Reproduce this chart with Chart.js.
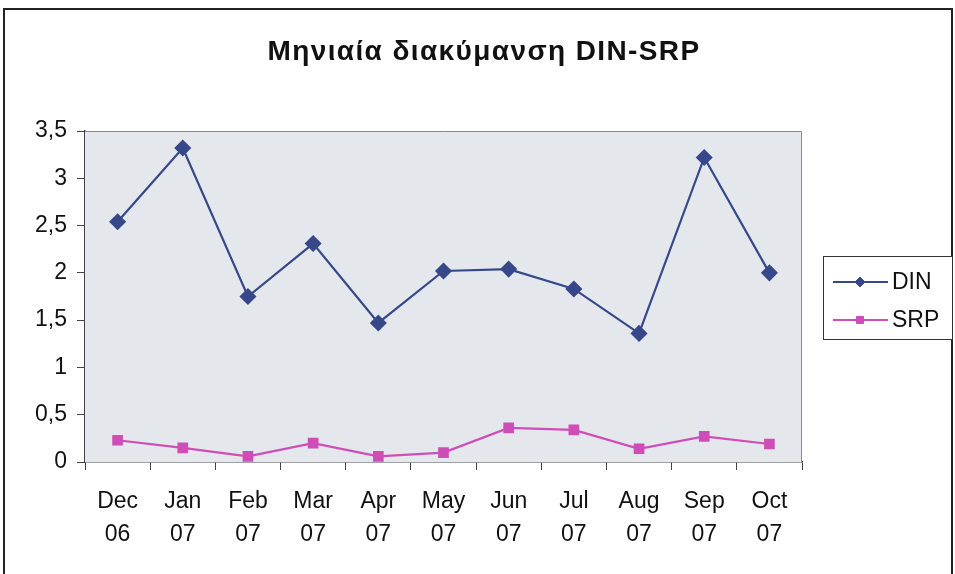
<!DOCTYPE html>
<html>
<head>
<meta charset="utf-8">
<script src="https://cdn.jsdelivr.net/npm/chart.js@4/dist/chart.umd.min.js"></script>
<style>
  html, body { margin: 0; padding: 0; background: #fff; }
  #wrap { width: 955px; height: 574px; position: relative; }
</style>
</head>
<body>
<div id="wrap"><canvas id="myChart"></canvas></div>
<script>
const months = ['Dec', 'Jan', 'Feb', 'Mar', 'Apr', 'May', 'Jun', 'Jul', 'Aug', 'Sep', 'Oct'];
const years = ['06', '07', '07', '07', '07', '07', '07', '07', '07', '07', '07'];
const din = [2.54, 3.32, 1.75, 2.31, 1.47, 2.02, 2.04, 1.83, 1.36, 3.22, 2.0];
const srp = [0.23, 0.15, 0.06, 0.20, 0.06, 0.10, 0.36, 0.34, 0.14, 0.27, 0.19];
const yTicks = [0, 0.5, 1, 1.5, 2, 2.5, 3, 3.5];
const title = 'Μηνιαία διακύμανση DIN-SRP';

const labels = months.map((m, i) => [m, years[i]]);
const FONT = 'Liberation Sans, Arial, sans-serif';

// frame, title, plot background and the boxed legend
const decor = {
    id: 'decor',
    beforeDraw(chart) {
        const c = chart.ctx;
        c.save();
        c.fillStyle = '#fff';
        c.fillRect(0, 0, chart.width, chart.height);
        c.strokeStyle = '#222';
        c.lineWidth = 2;
        c.strokeRect(4, 9, 948, 570);
        // title, slightly tracked out like the original
        c.fillStyle = '#111';
        c.font = 'bold 28px ' + FONT;
        c.letterSpacing = '1.4px';
        c.textAlign = 'center';
        c.textBaseline = 'middle';
        c.fillText(title, 484, 52);
        c.restore();
    },
    beforeDatasetsDraw(chart) {
        const a = chart.chartArea, c = chart.ctx;
        c.save();
        c.fillStyle = '#e4e7ec';
        c.fillRect(a.left, a.top, a.right - a.left, a.bottom - a.top);
        c.strokeStyle = '#8a8a8a';
        c.lineWidth = 1;
        c.beginPath();
        c.moveTo(a.left, a.top + 0.5);
        c.lineTo(a.right - 0.5, a.top + 0.5);
        c.lineTo(a.right - 0.5, a.bottom);
        c.stroke();
        c.restore();
    },
    afterDraw(chart) {
        const c = chart.ctx;
        const bx = 823, by = 256, bw = 129, bh = 83;
        c.save();
        c.fillStyle = '#fff';
        c.fillRect(bx, by, bw, bh);
        c.strokeStyle = '#333';
        c.lineWidth = 1;
        c.strokeRect(bx + 0.5, by + 0.5, bw, bh);
        chart.data.datasets.forEach((ds, i) => {
            const y = by + 26 + i * 38;
            c.strokeStyle = ds.borderColor;
            c.lineWidth = 2;
            c.beginPath();
            c.moveTo(833, y);
            c.lineTo(888, y);
            c.stroke();
            c.fillStyle = ds.pointBackgroundColor;
            c.strokeStyle = ds.pointBorderColor;
            c.lineWidth = 1;
            Chart.helpers.drawPoint(c, {
                pointStyle: ds.pointStyle, radius: 5, borderWidth: 1
            }, 860, y);
            c.fillStyle = '#111';
            c.font = '23px ' + FONT;
            c.textBaseline = 'middle';
            c.fillText(ds.label, 892, y + 1);
        });
        c.restore();
    }
};

const ctx = document.getElementById('myChart').getContext('2d');
const chart = new Chart(ctx, {
    type: 'line',
    data: {
        labels: labels,
        datasets: [
            {
                label: 'DIN',
                data: din,
                borderColor: '#37488a',
                backgroundColor: '#37488a',
                pointBackgroundColor: '#37488a',
                pointBorderColor: '#37488a',
                borderWidth: 2.2,
                pointStyle: 'rectRot',
                pointRadius: 7,
                tension: 0
            },
            {
                label: 'SRP',
                data: srp,
                borderColor: '#cf4db7',
                backgroundColor: '#cf4db7',
                pointBackgroundColor: '#cf4db7',
                pointBorderColor: '#cf4db7',
                borderWidth: 2.2,
                pointStyle: 'rect',
                pointRadius: 6,
                tension: 0
            }
        ]
    },
    options: {
        responsive: true,
        maintainAspectRatio: false,
        animation: false,
        layout: { padding: { left: 0, right: 153, top: 131, bottom: 0 } },
        plugins: {
            legend: { display: false },
            tooltip: { enabled: false },
            title: { display: false }
        },
        scales: {
            x: {
                offset: true,
                grid: { offset: true, drawOnChartArea: false, tickLength: 8, color: '#444' },
                border: { color: '#444', width: 1.5 },
                ticks: {
                    color: '#111',
                    padding: 16,
                    maxRotation: 0,
                    autoSkip: false,
                    font: { family: FONT, size: 23, lineHeight: 1.4 }
                },
                afterFit(axis) { axis.height = 112; }
            },
            y: {
                min: 0,
                max: 3.5,
                afterBuildTicks(axis) { axis.ticks = yTicks.map(v => ({ value: v })); },
                grid: { drawOnChartArea: false, tickLength: 8, color: '#444' },
                border: { color: '#444', width: 1.5 },
                ticks: {
                    color: '#111',
                    padding: 10,
                    font: { family: FONT, size: 23 },
                    callback: v => String(v).replace('.', ',')
                },
                afterFit(axis) { axis.width = 85; }
            }
        }
    },
    plugins: [decor]
});
</script>
</body>
</html>
